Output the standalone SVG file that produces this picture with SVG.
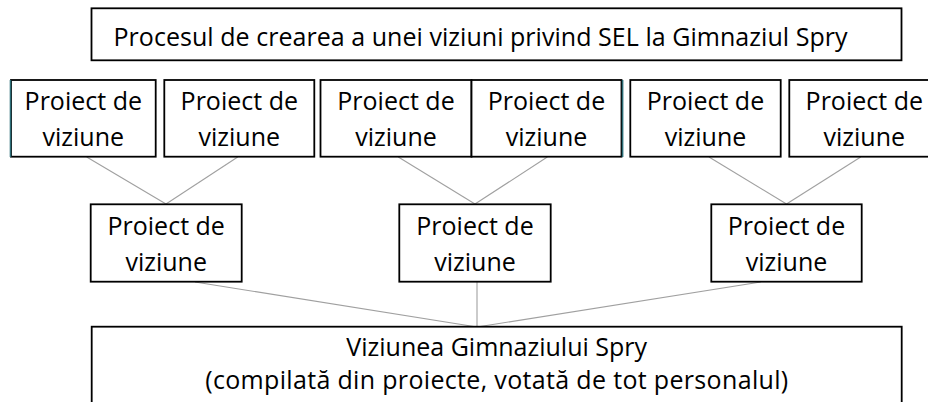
<svg xmlns="http://www.w3.org/2000/svg" width="928" height="402" viewBox="0 0 928 402">
<style>
.box{fill:#fff;stroke:#000;stroke-width:1.8}
.edge{fill:none;stroke:#a0a0a0;stroke-width:1.1}
.shade{stroke:#2b6c76;stroke-width:1.6}
text{font-family:"Open Sans","Noto Sans","Liberation Sans",sans-serif;font-size:25px;fill:#000;text-anchor:middle}
</style>
<rect width="928" height="402" fill="#fff"/>
<g id="connectors">
<line class="edge" x1="86.7" y1="157" x2="166" y2="204"/>
<line class="edge" x1="237.7" y1="157" x2="166" y2="204"/>
<line class="edge" x1="398.3" y1="157" x2="475" y2="204"/>
<line class="edge" x1="547.3" y1="157" x2="475" y2="204"/>
<line class="edge" x1="709" y1="157" x2="786.5" y2="204"/>
<line class="edge" x1="860.7" y1="157" x2="786.5" y2="204"/>
<line class="edge" x1="195" y1="282" x2="477" y2="327"/>
<line class="edge" x1="477" y1="282" x2="477" y2="327"/>
<line class="edge" x1="760.7" y1="282" x2="477" y2="327"/>
</g>
<g id="title">
<rect class="box" x="91.5" y="8.3" width="810" height="52"/>
<text x="480.5" y="46" textLength="734">Procesul de crearea a unei viziuni privind SEL la Gimnaziul Spry</text>
</g>
<g id="p1">
<rect class="box" x="11" y="80" width="144.7" height="76.7"/>
<line class="shade" x1="10.5" y1="80" x2="10.5" y2="157"/>
<text x="83.3" y="110">Proiect de</text><text x="83.3" y="145.7">viziune</text>
</g>
<g id="p2">
<rect class="box" x="164.3" y="80" width="150" height="76.7"/>
<text x="239.3" y="110">Proiect de</text><text x="239.3" y="145.7">viziune</text>
</g>
<g id="p3">
<rect class="box" x="320.5" y="80" width="151" height="76.7"/>
<text x="396" y="110">Proiect de</text><text x="396" y="145.7">viziune</text>
</g>
<g id="p4">
<rect class="box" x="471.5" y="80" width="150" height="76.7"/>
<line class="shade" x1="622.6" y1="80" x2="622.6" y2="157"/>
<text x="546.5" y="110">Proiect de</text><text x="546.5" y="145.7">viziune</text>
</g>
<g id="p5">
<rect class="box" x="630.3" y="80" width="150.4" height="76.7"/>
<text x="705.5" y="110">Proiect de</text><text x="705.5" y="145.7">viziune</text>
</g>
<g id="p6">
<rect class="box" x="789.3" y="80" width="150" height="76.7"/>
<text x="864.3" y="110">Proiect de</text><text x="864.3" y="145.7">viziune</text>
</g>
<g id="m1">
<rect class="box" x="90.7" y="204.3" width="151" height="77.4"/>
<text x="166.2" y="235">Proiect de</text><text x="166.2" y="270.7">viziune</text>
</g>
<g id="m2">
<rect class="box" x="399.3" y="204.3" width="151.4" height="77.4"/>
<text x="475" y="235">Proiect de</text><text x="475" y="270.7">viziune</text>
</g>
<g id="m3">
<rect class="box" x="711.3" y="204.3" width="150.4" height="77.4"/>
<text x="786.5" y="235">Proiect de</text><text x="786.5" y="270.7">viziune</text>
</g>
<g id="final">
<rect class="box" x="91.7" y="326.7" width="810" height="100"/>
<text x="496.7" y="355.5">Viziunea Gimnaziului Spry</text>
<text x="496.7" y="389" textLength="583">(compilată din proiecte, votată de tot personalul)</text>
</g>
</svg>
